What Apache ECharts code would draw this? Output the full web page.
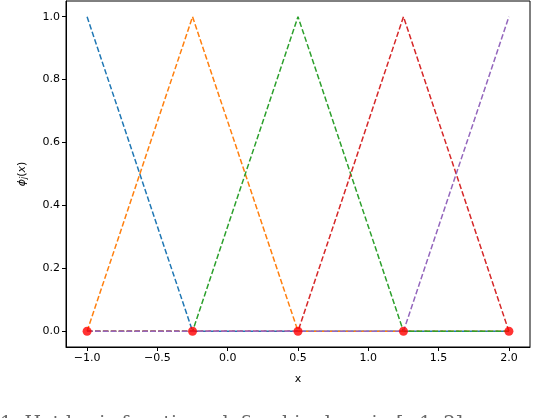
<!DOCTYPE html>
<html>
<head>
<meta charset="utf-8">
<script src="https://cdn.jsdelivr.net/npm/echarts@6/dist/echarts.min.js"></script>
<style>html,body{margin:0;padding:0;background:#fff}#c{width:548px;height:418px}</style>
</head>
<body>
<div id="c"></div>
<script>
const nodes = [-1, -0.25, 0.5, 1.25, 2];
const phi0 = [1, 0, 0, 0, 0];
const phi1 = [0, 1, 0, 0, 0];
const phi2 = [0, 0, 1, 0, 0];
const phi3 = [0, 0, 0, 1, 0];
const phi4 = [0, 0, 0, 0, 1];
const nodeValues = [0, 0, 0, 0, 0];
const xTicks = [-1, -0.5, 0, 0.5, 1, 1.5, 2];
const yTicks = [0, 0.2, 0.4, 0.6, 0.8, 1.0];
const colors = ['#1f77b4', '#ff7f0e', '#2ca02c', '#d62728', '#9467bd'];
const caption = '1: Hat basis functions defined in domain [\u22121, 2]';

const fmt = v => (v < 0 ? '\u2212' + Math.abs(v).toFixed(1) : v.toFixed(1));
const font = 'DejaVu Sans';
const phis = [phi0, phi1, phi2, phi3, phi4];

const series = phis.map((p, i) => ({
  type: 'line',
  data: nodes.map((x, k) => [x, p[k]]),
  showSymbol: false,
  symbol: 'none',
  lineStyle: { color: colors[i], width: 1.5, type: [5.5, 2.4] },
  z: 2 + i,
  animation: false
}));
series.push({
  type: 'scatter',
  data: nodes.map((x, k) => [x, nodeValues[k]]),
  symbolSize: 9,
  itemStyle: { color: '#ff0000' },
  z: 20,
  animation: false
});

const chart = echarts.init(document.getElementById('c'), null, { renderer: 'canvas' });
chart.setOption({
  animation: false,
  grid: { left: 66, right: 18, top: 1, bottom: 71, show: true, borderColor: '#000', borderWidth: 1, backgroundColor: 'transparent' },
  xAxis: {
    type: 'value', min: -1.15, max: 2.15,
    splitLine: { show: false },
    axisLine: { show: true, onZero: false, lineStyle: { color: '#000', width: 1 } },
    axisTick: { show: true, length: 4, customValues: xTicks, lineStyle: { color: '#000' } },
    axisLabel: { customValues: xTicks, formatter: fmt, color: '#000', fontFamily: font, fontSize: 11, margin: 6 },
    name: 'x', nameLocation: 'middle', nameGap: 27,
    nameTextStyle: { color: '#000', fontFamily: font, fontSize: 11 }
  },
  yAxis: {
    type: 'value', min: -0.05, max: 1.05,
    splitLine: { show: false },
    axisLine: { show: true, onZero: false, lineStyle: { color: '#000', width: 1 } },
    axisTick: { show: true, length: 4, customValues: yTicks, lineStyle: { color: '#000' } },
    axisLabel: { customValues: yTicks, formatter: fmt, color: '#000', fontFamily: font, fontSize: 11, margin: 6 },
    name: '{i|\u03d5}{s|j}{n|(}{i|x}{n|)}', nameLocation: 'middle', nameGap: 38,
    nameTextStyle: {
      color: '#000', fontFamily: font, fontSize: 11,
      rich: {
        i: { fontStyle: 'italic', fontFamily: font, fontSize: 11, color: '#000' },
        s: { fontStyle: 'italic', fontFamily: font, fontSize: 8, color: '#000', verticalAlign: 'bottom', padding: [4, 0, 0, 0] },
        n: { fontFamily: font, fontSize: 11, color: '#000' }
      }
    }
  },
  graphic: [{
    type: 'text', left: 0, top: 415, silent: true,
    style: { text: caption, fontFamily: 'DejaVu Serif', fontSize: 19, fill: '#666' }
  }],
  series: series
});
</script>
</body>
</html>
